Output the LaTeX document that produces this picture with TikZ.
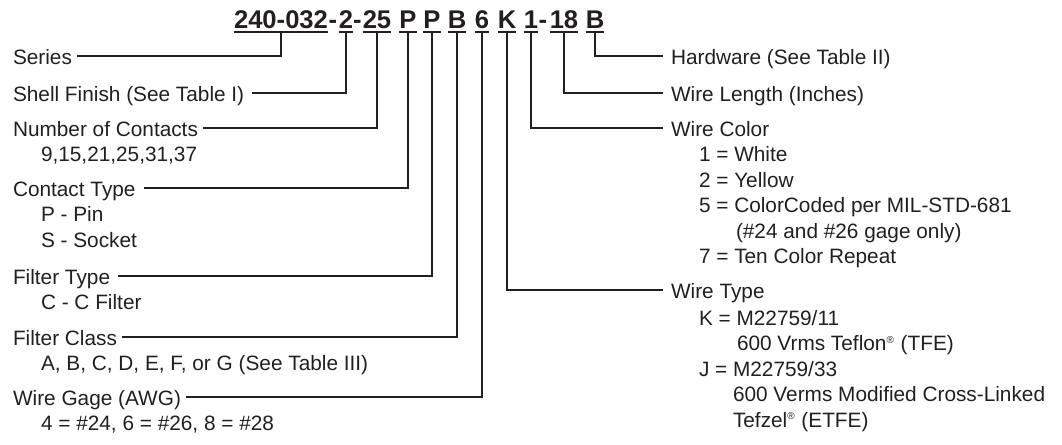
\documentclass[tikz,border=0pt]{standalone}
\usepackage{fontspec}
\setmainfont{Liberation Sans}
\usetikzlibrary{positioning}
\definecolor{ink}{RGB}{35,31,32}
\newcommand{\regmark}{\textsuperscript{\fontsize{5}{5}\selectfont ®}}

\begin{document}
\begin{tikzpicture}[x=0.5pt,y=-0.5pt,node distance=4.35pt,
		pn/.style={font=\fontsize{12.8}{15}\selectfont\bfseries,text=ink,anchor=base,inner xsep=0pt,inner ysep=1.75pt,outer sep=0pt,text height=9.5pt,text depth=0pt},
		lbl/.style={font=\fontsize{10.4}{12}\selectfont,text=ink,anchor=west,inner xsep=2.5pt,inner ysep=0pt,outer sep=0pt,text height=8.4pt,text depth=0pt},
		rlbl/.style={lbl,inner xsep=4pt},
		sub/.style={lbl,inner xsep=0pt},
		wire/.style={draw=ink,line width=1.25pt}]
		\useasboundingbox (0,0) rectangle (1062,445);

		% part number
		\node[pn] (sSer) at (281,28.5) {240-032};
		\node[pn] (dA) at (333,28.5) {-};
		\node[pn] (sFin) at (346,28.5) {2};
		\node[pn] (dB) at (357.5,28.5) {-};
		\node[pn] (sNum) at (377,28.5) {25};
		\node[pn] (sCon) at (408,28.5) {P};
		\node[pn] (sFil) at (432,28.5) {P};
		\node[pn] (sCls) at (457,28.5) {B};
		\node[pn] (sGag) at (482,28.5) {6};
		\node[pn] (sWty) at (507,28.5) {K};
		\node[pn] (sCol) at (531,28.5) {1};
		\node[pn] (dC) at (543,28.5) {-};
		\node[pn] (sLen) at (564,28.5) {18};
		\node[pn] (sHw) at (595,28.5) {B};

		\foreach \s in {sSer,sFin,sNum,sCon,sFil,sCls,sGag,sWty,sCol,sLen,sHw}
		\draw[wire] (\s.south west) -- (\s.south east);

		% left side
		\node[lbl] (lSer) at (8,56) {Series};
		\node[lbl,inner xsep=4pt] (lFin) at (5,93) {Shell Finish (See Table I)};
		\node[lbl] (lNum) at (8,128) {Number of Contacts};
		\node[sub] (lNum1) [below right=4.35pt and 16.5pt of lNum.south west] {9,15,21,25,31,37};
		\node[lbl,inner xsep=4pt] (lCon) at (5,188) {Contact Type};
		\node[sub] (lCon1) [below right=4.35pt and 18pt of lCon.south west] {P - Pin};
		\node[sub] (lCon2) [below=of lCon1.south west,anchor=north west] {S - Socket};
		\node[lbl,inner xsep=4pt] (lFil) at (5,276) {Filter Type};
		\node[sub] (lFil1) [below right=4.35pt and 18pt of lFil.south west] {C - C Filter};
		\node[lbl] (lCls) at (8,337) {Filter Class};
		\node[sub] (lCls1) [below right=4.35pt and 16.5pt of lCls.south west] {A, B, C, D, E, F, or G (See Table III)};
		\node[lbl] (lGag) at (8,397) {Wire Gage (AWG)};
		\node[sub] (lGag1) [below right=4.35pt and 16.5pt of lGag.south west] {4 = \#24, 6 = \#26, 8 = \#28};

		% right side
		\node[rlbl] (lHw) at (663,56) {Hardware (See Table II)};
		\node[rlbl] (lLen) at (663,93) {Wire Length (Inches)};
		\node[rlbl] (lCol) at (663,128) {Wire Color};
		\node[sub] (lCol1) [below right=4.35pt and 18pt of lCol.south west] {1 = White};
		\node[sub] (lCol2) [below=of lCol1.south west,anchor=north west] {2 = Yellow};
		\node[sub] (lCol5) [below=of lCol2.south west,anchor=north west] {5 = ColorCoded per MIL-STD-681};
		\node[sub] (lCol5b) [below right=4.35pt and 18.5pt of lCol5.south west] {(\#24 and \#26 gage only)};
		\node[sub] (lCol7) [below=of lCol5.south west,anchor=north west,yshift=-12.75pt] {7 = Ten Color Repeat};
		\node[rlbl] (lWty) at (663,290) {Wire Type};
		\node[sub] (lWtyK) [below right=5pt and 18pt of lWty.south west] {K = M22759/11};
		\node[sub] (lWtyK2) [below right=4.35pt and 19pt of lWtyK.south west] {600 Vrms Teflon\regmark{} (TFE)};
		\node[sub] (lWtyJ) [below=of lWtyK.south west,anchor=north west,yshift=-12.75pt] {J = M22759/33};
		\node[sub] (lWtyJ2) [below right=4.35pt and 17pt of lWtyJ.south west] {600 Verms Modified Cross-Linked};
		\node[sub] (lWtyJ3) [below=of lWtyJ2.south west,anchor=north west] {Tefzel\regmark{} (ETFE)};

		% connectors
		\draw[wire] (sSer.south) |- (lSer.east);
		\draw[wire] (sFin.south) |- (lFin.east);
		\draw[wire] (sNum.south) |- (lNum.east);
		\draw[wire] (sCon.south) |- (lCon.east);
		\draw[wire] (sFil.south) |- (lFil.east);
		\draw[wire] (sCls.south) |- (lCls.east);
		\draw[wire] (sGag.south) |- (lGag.east);
		\draw[wire] (sWty.south) |- (lWty.west);
		\draw[wire] (sCol.south) |- (lCol.west);
		\draw[wire] (sLen.south) |- (lLen.west);
		\draw[wire] (sHw.south) |- (lHw.west);
	\end{tikzpicture}
\end{document}
